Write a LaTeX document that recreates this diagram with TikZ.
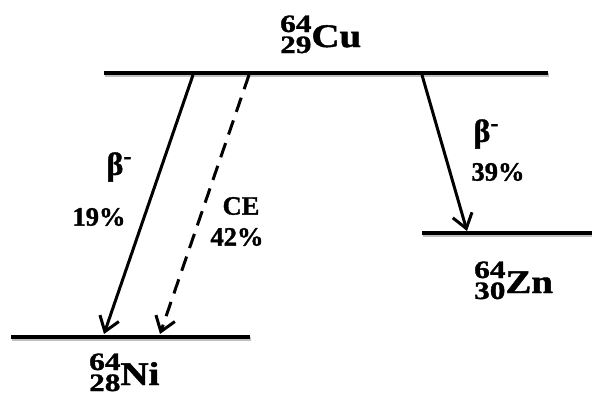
\documentclass[tikz,border=0pt]{standalone}
\usepackage{fontspec}
\usepackage{graphicx}
\setmainfont{Liberation Serif}
\newfontfamily\heavy{Liberation Serif Bold}[FakeBold=1.2]
\usetikzlibrary{arrows.meta}
\newcommand\isot[3]{\scalebox{1.25}[1]{\fontsize{25}{25}\selectfont\rlap{\raisebox{15pt}{#1}}\raisebox{-6pt}{#2}}\scalebox{1.18}[1]{\fontsize{33}{36}\selectfont #3}}
\newcommand\betam{{\fontsize{32}{32}\selectfont β}\raisebox{11pt}{\fontsize{24}{24}\selectfont -}}
\begin{document}
\begin{tikzpicture}[x=1pt,y=-1pt,
  level/.style={line width=4pt, preaction={draw=black!25, line width=4pt, transform canvas={shift={(1pt,-1.5pt)}}}},
  trans/.style={line width=3pt, -{Straight Barb[length=14pt,width=20pt,line width=3pt]}},
  lbl/.style={font=\heavy\fontsize{26.5}{28}\selectfont, inner sep=0pt},
  nuc/.style={font=\heavy, inner sep=0pt, anchor=base west}]
\useasboundingbox (0,0) rectangle (592,399);
% levels
\coordinate (cuL) at (104,73); \coordinate (cuR) at (548,73);
\coordinate (niL) at (11,337); \coordinate (niR) at (250,337);
\coordinate (znL) at (422,233); \coordinate (znR) at (592,233);
\draw[level] (cuL) -- (cuR);
\draw[level] (niL) -- (niR);
\draw[level] (znL) -- (znR);
% transitions
\coordinate (a1) at (193,75); \coordinate (b1) at (104,334);
\coordinate (a2) at (249,75); \coordinate (b2) at (160,334);
\coordinate (a3) at (422,75); \coordinate (b3) at (467,231);
\draw[trans] (a1) -- (b1);
\draw[trans, dash pattern=on 15pt off 9pt] (a2) -- (b2);
\draw[trans] (a3) -- (b3);
% labels
\node[nuc] (cu) at (280,47) {\isot{64}{29}{Cu}};
\node[nuc] (ni) at (89,385) {\isot{64}{28}{Ni}};
\node[nuc] (zn) at (474,293) {\isot{64}{30}{Zn}};
\node[lbl] (bl) at (119,167) {\betam};
\node[lbl] (pl) at (99,217) {19\%};
\node[lbl] (ce) at (241,206) {CE};
\node[lbl] (pc) at (237,237) {42\%};
\node[lbl] (br) at (486,134) {\betam};
\node[lbl] (pr) at (498,172) {39\%};
\end{tikzpicture}
\end{document}
